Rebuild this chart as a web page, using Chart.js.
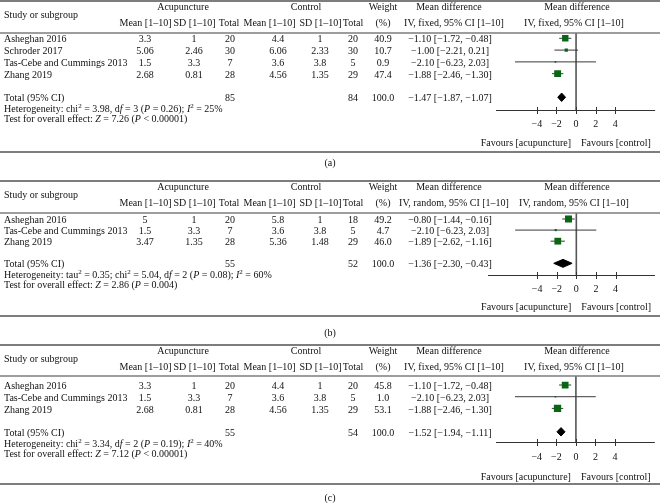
<!DOCTYPE html>
<html>
<head>
<meta charset="utf-8">
<script src="https://cdn.jsdelivr.net/npm/chart.js@4.4.1/dist/chart.umd.min.js"></script>
<style>
  html, body { margin: 0; padding: 0; background: #fff; }
  canvas { display: block; }
</style>
</head>
<body>
<canvas id="panelA" width="660" height="172"></canvas>
<canvas id="panelB" width="660" height="168"></canvas>
<canvas id="panelC" width="660" height="163"></canvas>
<script>
// (a) fixed effect
const STUDY_A = ['Asheghan 2016', 'Schroder 2017', 'Tas-Cebe and Cummings 2013', 'Zhang 2019'];
const ACU_MEAN_A = [3.3, 5.06, 1.5, 2.68];
const ACU_SD_A = [1, 2.46, 3.3, 0.81];
const ACU_N_A = [20, 30, 7, 28];
const CON_MEAN_A = [4.4, 6.06, 3.6, 4.56];
const CON_SD_A = [1, 2.33, 3.8, 1.35];
const CON_N_A = [20, 30, 5, 29];
const WEIGHT_A = [40.9, 10.7, 0.9, 47.4];
const MD_A = [-1.10, -1.00, -2.10, -1.88];
const LO_A = [-1.72, -2.21, -6.23, -2.46];
const HI_A = [-0.48, 0.21, 2.03, -1.30];
const POOLED_A = [-1.47, -1.87, -1.07];
const HET_A = [3.98, 3, '= 0.26', 25];
const Z_A = [7.26, '< 0.00001'];

// (b) random effects
const STUDY_B = ['Asheghan 2016', 'Tas-Cebe and Cummings 2013', 'Zhang 2019'];
const ACU_MEAN_B = [5, 1.5, 3.47];
const ACU_SD_B = [1, 3.3, 1.35];
const ACU_N_B = [20, 7, 28];
const CON_MEAN_B = [5.8, 3.6, 5.36];
const CON_SD_B = [1, 3.8, 1.48];
const CON_N_B = [18, 5, 29];
const WEIGHT_B = [49.2, 4.7, 46.0];
const MD_B = [-0.80, -2.10, -1.89];
const LO_B = [-1.44, -6.23, -2.62];
const HI_B = [-0.16, 2.03, -1.16];
const POOLED_B = [-1.36, -2.30, -0.43];
const TAU_B = 0.35;
const HET_B = [5.04, 2, '= 0.08', 60];
const Z_B = [2.86, '= 0.004'];

// (c) fixed effect
const STUDY_C = ['Asheghan 2016', 'Tas-Cebe and Cummings 2013', 'Zhang 2019'];
const ACU_MEAN_C = [3.3, 1.5, 2.68];
const ACU_SD_C = [1, 3.3, 0.81];
const ACU_N_C = [20, 7, 28];
const CON_MEAN_C = [4.4, 3.6, 4.56];
const CON_SD_C = [1, 3.8, 1.35];
const CON_N_C = [20, 5, 29];
const WEIGHT_C = [45.8, 1.0, 53.1];
const MD_C = [-1.10, -2.10, -1.88];
const LO_C = [-1.72, -6.23, -2.46];
const HI_C = [-0.48, 2.03, -1.30];
const POOLED_C = [-1.52, -1.94, -1.11];
const HET_C = [3.34, 2, '= 0.19', 40];
const Z_C = [7.12, '< 0.00001'];

const TICKS = [-4, -2, 0, 2, 4];

const SERIF = '"Liberation Serif", "DejaVu Serif", serif';
const FS = 10;
const INK = '#111';
const GREEN = '#0a6614';
const RULE = '#7d7d7d';

const font = (size, italic) => (italic ? 'italic ' : '') + size + 'px ' + SERIF;
const minus = v => (v < 0 ? '\u2212' : '') + Math.abs(v);
const fmt2 = v => (v < 0 ? '\u2212' : '') + Math.abs(v).toFixed(2);
const ciText = (m, lo, hi) => `${fmt2(m)} [${fmt2(lo)}, ${fmt2(hi)}]`;
const sum = arr => arr.reduce((a, b) => a + b, 0);

function rich(ctx, segs, x, y) {
    ctx.textAlign = 'left';
    segs.forEach(seg => {
        ctx.font = seg.sup ? font(7) : font(FS, seg.it);
        ctx.fillText(seg.t, x, seg.sup ? y - 3.5 : y);
        x += ctx.measureText(seg.t).width;
    });
    ctx.font = font(FS);
}

function hetSegs(het, tau) {
    const segs = [{ t: 'Heterogeneity: ' }];
    if (tau !== undefined) {
        segs.push({ t: 'tau' }, { t: '2', sup: true }, { t: ' = ' + tau + '; ' });
    }
    segs.push(
        { t: 'chi' }, { t: '2', sup: true }, { t: ' = ' + het[0].toFixed(2) + ', d' },
        { t: 'f', it: true }, { t: ' = ' + het[1] + ' (' }, { t: 'P', it: true },
        { t: ' ' + het[2] + '); ' }, { t: 'I', it: true }, { t: '2', sup: true },
        { t: ' = ' + het[3] + '%' }
    );
    return segs;
}

function testSegs(z) {
    return [
        { t: 'Test for overall effect: ' }, { t: 'Z', it: true },
        { t: ' = ' + z[0].toFixed(2) + ' (' }, { t: 'P', it: true }, { t: ' ' + z[1] + ')' }
    ];
}

const PANELS = [
    {
        id: 'panelA', tag: '(a)', method: 'fixed',
        study: STUDY_A, acuMean: ACU_MEAN_A, acuSd: ACU_SD_A, acuN: ACU_N_A,
        conMean: CON_MEAN_A, conSd: CON_SD_A, conN: CON_N_A, weight: WEIGHT_A,
        md: MD_A, lo: LO_A, hi: HI_A, pooled: POOLED_A,
        het: hetSegs(HET_A), test: testSegs(Z_A),
        box: { top: 1, hdr: 33, axis: 110, bottom: 152, tickY: 124, favY: 143, labelY: 163,
               yMin: -0.45, yMax: 6.08, left: 496, xMin: -8.17, xMax: 8.07 }
    },
    {
        id: 'panelB', tag: '(b)', method: 'random',
        study: STUDY_B, acuMean: ACU_MEAN_B, acuSd: ACU_SD_B, acuN: ACU_N_B,
        conMean: CON_MEAN_B, conSd: CON_SD_B, conN: CON_N_B, weight: WEIGHT_B,
        md: MD_B, lo: LO_B, hi: HI_B, pooled: POOLED_B,
        het: hetSegs(HET_B, TAU_B), test: testSegs(Z_B),
        box: { top: 9, hdr: 41, axis: 103, bottom: 144, tickY: 117, favY: 135, labelY: 161,
               yMin: -0.54, yMax: 5.05, left: 488, xMin: -9.0, xMax: 8.02 }
    },
    {
        id: 'panelC', tag: '(c)', method: 'fixed',
        study: STUDY_C, acuMean: ACU_MEAN_C, acuSd: ACU_SD_C, acuN: ACU_N_C,
        conMean: CON_MEAN_C, conSd: CON_SD_C, conN: CON_N_C, weight: WEIGHT_C,
        md: MD_C, lo: LO_C, hi: HI_C, pooled: POOLED_C,
        het: hetSegs(HET_C), test: testSegs(Z_C),
        box: { top: 5, hdr: 36, axis: 102, bottom: 144, tickY: 117.5, favY: 137.5, labelY: 158,
               yMin: -0.77, yMax: 4.87, left: 496, xMin: -8.17, xMax: 8.07 }
    }
];

function tablePlugin(p) {
    return {
        id: 'forestTable',
        afterDraw(chart) {
            const ctx = chart.ctx;
            const b = p.box;
            const xs = chart.scales.x;
            const ys = chart.scales.y;
            const W = chart.width;
            ctx.save();

            // rules
            ctx.strokeStyle = RULE;
            ctx.lineWidth = 2;
            [b.top, b.bottom].forEach(y => {
                ctx.beginPath(); ctx.moveTo(0, y); ctx.lineTo(W, y); ctx.stroke();
            });
            ctx.lineWidth = 1.5;
            ctx.beginPath(); ctx.moveTo(0, b.hdr); ctx.lineTo(W, b.hdr); ctx.stroke();

            // x axis
            const ay = chart.chartArea.bottom;
            ctx.strokeStyle = '#333';
            ctx.lineWidth = 1;
            ctx.beginPath(); ctx.moveTo(chart.chartArea.left, ay + 0.5); ctx.lineTo(chart.chartArea.right, ay + 0.5); ctx.stroke();
            TICKS.forEach(t => {
                const x = Math.round(xs.getPixelForValue(t)) + 0.5;
                ctx.beginPath(); ctx.moveTo(x, ay - 3); ctx.lineTo(x, ay + 4); ctx.stroke();
            });

            ctx.fillStyle = INK;
            ctx.font = font(FS);
            ctx.textBaseline = 'middle';
            const put = (s, x, y, align) => { ctx.textAlign = align || 'center'; ctx.fillText(s, x, y); };

            TICKS.forEach(t => put(minus(t), xs.getPixelForValue(t), b.tickY));
            const x0 = xs.getPixelForValue(0);
            put('Favours [acupuncture]', x0 - 5, b.favY, 'right');
            put('Favours [control]', x0 + 5, b.favY, 'left');

            // header
            const h1 = b.top + 6.5, h2 = b.top + 22.5;
            put('Study or subgroup', 4, b.top + 14.5, 'left');
            put('Acupuncture', 183, h1);
            put('Control', 306, h1);
            put('Weight', 383, h1);
            put('Mean difference', 449, h1);
            put('Mean difference', 577, h1);
            put('Mean [1\u201310]', 145.5, h2);
            put('SD [1\u201310]', 194.5, h2);
            put('Total', 229, h2);
            put('Mean [1\u201310]', 269.5, h2);
            put('SD [1\u201310]', 320.5, h2);
            put('Total', 353, h2);
            put('(%)', 383, h2);
            put(`IV, ${p.method}, 95% CI [1\u201310]`, 454, h2);
            put(`IV, ${p.method}, 95% CI [1\u201310]`, 574, h2);

            // study rows
            p.study.forEach((name, i) => {
                const y = ys.getPixelForValue(i) + 1.5;
                put(name, 4, y, 'left');
                put(String(p.acuMean[i]), 145, y);
                put(String(p.acuSd[i]), 194, y);
                put(String(p.acuN[i]), 230, y);
                put(String(p.conMean[i]), 278, y);
                put(String(p.conSd[i]), 320, y);
                put(String(p.conN[i]), 353, y);
                put(p.weight[i].toFixed(1), 383, y);
                put(ciText(p.md[i], p.lo[i], p.hi[i]), 450, y);
            });

            // total rows
            const ty = ys.getPixelForValue(p.study.length + 1) + 1.5;
            put('Total (95% CI)', 4, ty, 'left');
            put(String(sum(p.acuN)), 230, ty);
            put(String(sum(p.conN)), 353, ty);
            put(Math.round(sum(p.weight)).toFixed(1), 383, ty);
            put(ciText(p.pooled[0], p.pooled[1], p.pooled[2]), 450, ty);
            rich(ctx, p.het, 4, ty + 11);
            rich(ctx, p.test, 4, ty + 21);

            put(p.tag, 330, b.labelY);
            ctx.restore();
        }
    };
}

function makePanel(p) {
    const b = p.box;
    const canvas = document.getElementById(p.id);
    const datasets = [];
    const totalRow = p.study.length + 1;

    datasets.push({
        label: 'Pooled',
        data: [
            { x: p.pooled[1], y: totalRow },
            { x: p.pooled[0], y: totalRow - 0.36 },
            { x: p.pooled[2], y: totalRow },
            { x: p.pooled[0], y: totalRow + 0.36 },
            { x: p.pooled[1], y: totalRow }
        ],
        showLine: true,
        fill: 'shape',
        backgroundColor: '#000',
        borderColor: '#000',
        borderWidth: 1,
        pointRadius: 0
    });
    datasets.push({
        label: 'Studies',
        data: p.md.map((m, i) => ({ x: m, y: i })),
        pointStyle: 'rect',
        pointRadius: ctx => Math.max(1.6, Math.sqrt(p.weight[ctx.dataIndex])) / Math.SQRT2,
        backgroundColor: GREEN,
        borderWidth: 0
    });
    p.md.forEach((m, i) => {
        datasets.push({
            label: p.study[i] + ' CI',
            data: [{ x: p.lo[i], y: i }, { x: p.hi[i], y: i }],
            showLine: true,
            borderColor: '#3a3a3a',
            borderWidth: 1,
            pointRadius: 0
        });
    });
    datasets.push({
        label: 'No effect',
        data: [{ x: 0, y: b.yMin }, { x: 0, y: b.yMax }],
        showLine: true,
        borderColor: '#555',
        borderWidth: 1.6,
        pointRadius: 0
    });

    return new Chart(canvas, {
        type: 'scatter',
        data: { datasets },
        options: {
            responsive: false,
            animation: false,
            events: [],
            layout: { padding: { left: b.left, right: 0, top: b.hdr, bottom: canvas.height - b.axis } },
            plugins: { legend: { display: false }, tooltip: { enabled: false } },
            scales: {
                x: { type: 'linear', display: false, min: b.xMin, max: b.xMax },
                y: { type: 'linear', display: false, reverse: true, min: b.yMin, max: b.yMax }
            }
        },
        plugins: [tablePlugin(p)]
    });
}

PANELS.forEach(makePanel);
</script>
</body>
</html>
